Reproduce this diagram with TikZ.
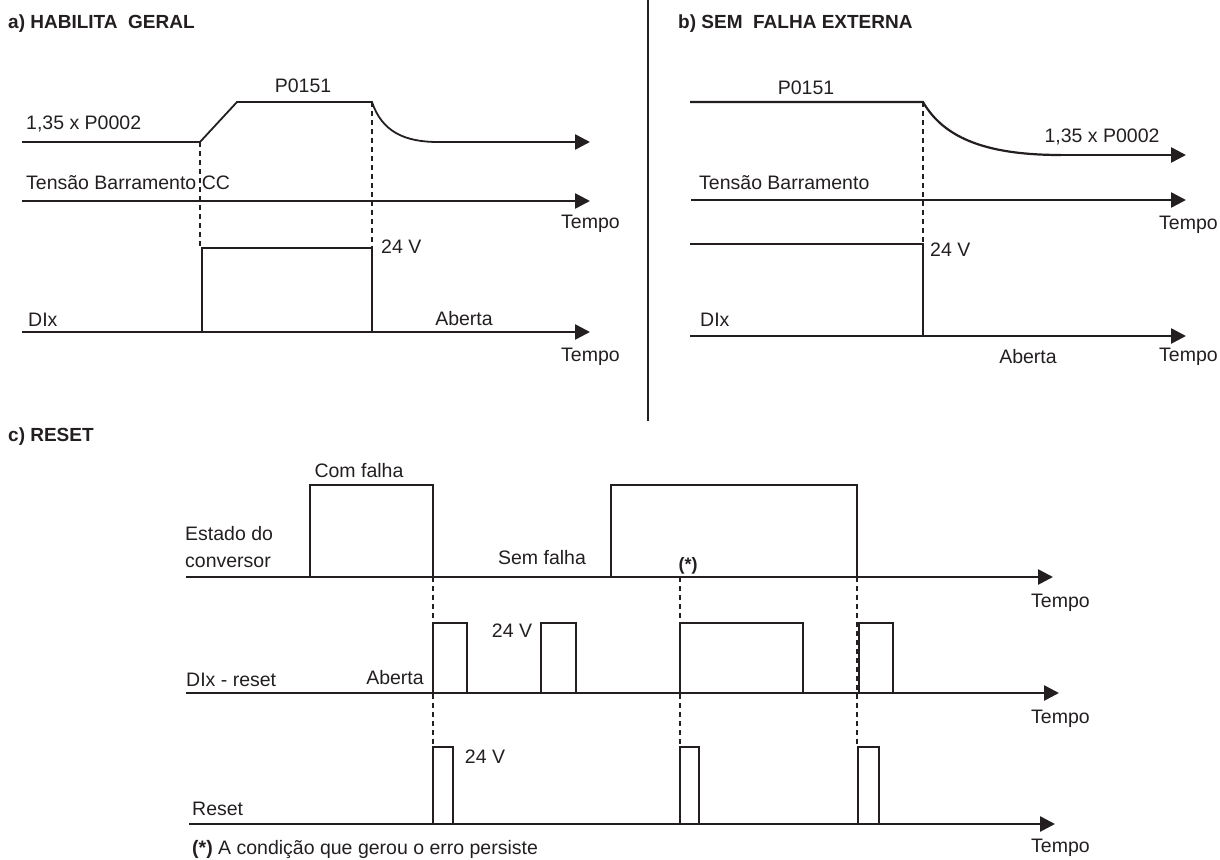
\documentclass[tikz,border=0pt]{standalone}
\usepackage{fontspec}
\setmainfont{Liberation Sans}
\usetikzlibrary{arrows.meta,positioning}
\definecolor{inkcolor}{RGB}{35,31,32}

\begin{document}
\begin{tikzpicture}[
    x=1pt, y=-1pt,
    sig/.style={line width=2.2pt, draw=inkcolor, line join=miter},
    axis/.style={sig, line width=2.6pt, -{Triangle[length=15pt,width=15pt]}},
    guide/.style={line width=1.7pt, draw=inkcolor, dash pattern=on 5pt off 4pt},
    lbl/.style={font=\fontsize{19.5}{27}\selectfont, text=inkcolor, inner sep=0pt},
    panel/.style={font=\bfseries\fontsize{19}{20}\selectfont, text=inkcolor, inner sep=0pt, anchor=west}
]
\useasboundingbox (0,0) rectangle (1220,859);

% Separator between a) and b)
\draw[line width=1.2pt, draw=inkcolor] (648,0) -- (648,421);

% a) HABILITA GERAL
\node[panel] (titleA) at (8,24) {a) HABILITA\ \ GERAL};
\draw[sig, line width=1.8pt] (22,142) -- (200,142) -- (237,102) -- (372,102)
    .. controls (382,132) and (405,142) .. (438,142);
\draw[axis] (438,142) -- (590,142);
\draw[axis] (22,201) -- (590,201);
\draw[axis] (22,332) -- (590,332);
\draw[sig] (202,332) -- (202,248) -- (372,248) -- (372,332);
\draw[guide] (200,142) -- (200,248);
\draw[guide] (372,102) -- (372,248);

\node[lbl] (pA) at (303,86) {P0151};
\node[lbl, anchor=west] (vA) at (26,124) {1,35 x P0002};
\node[lbl, anchor=west] (busA) at (26,183) {Tensão Barramento CC};
\node[lbl, anchor=west] (t1A) at (561,224) {Tempo};
\node[lbl, anchor=west] (onA) at (381,247) {24 V};
\node[lbl, anchor=west] (diA) at (28,320) {DIx};
\node[lbl] (offA) at (464,319) {Aberta};
\node[lbl, anchor=west] (t2A) at (561,357) {Tempo};

% b) SEM FALHA EXTERNA
\node[panel] (titleB) at (678,24) {b) SEM\ \ FALHA EXTERNA};
\draw[sig] (690,102) -- (923,102)
    .. controls (945,140) and (990,155) .. (1061,155);
\draw[axis] (1061,155) -- (1186,155);
\draw[axis] (691,200) -- (1186,200);
\draw[axis] (690,336) -- (1186,336);
\draw[sig] (690,244) -- (923,244) -- (923,336);
\draw[guide] (923,102) -- (923,244);

\node[lbl] (pB) at (806,88) {P0151};
\node[lbl] (vB) at (1102,137) {1,35 x P0002};
\node[lbl, anchor=west] (busB) at (699,183) {Tensão Barramento};
\node[lbl, anchor=west] (t1B) at (1159,225) {Tempo};
\node[lbl, anchor=west] (onB) at (930,250) {24 V};
\node[lbl, anchor=west] (diB) at (700,320) {DIx};
\node[lbl] (offB) at (1028,357) {Aberta};
\node[lbl, anchor=west] (t2B) at (1159,357) {Tempo};

% c) RESET
\node[panel] (titleC) at (8,437) {c) RESET};

% Estado do conversor
\draw[axis] (186,577) -- (1053,577);
\foreach \a/\b in {310/433, 611/857}
    \draw[sig] (\a,577) -- (\a,485) -- (\b,485) -- (\b,577);

% DIx - reset
\draw[axis] (186,693) -- (1059,693);
\foreach \a/\b in {433/467, 541/576, 680/803, 859/893}
    \draw[sig] (\a,693) -- (\a,623) -- (\b,623) -- (\b,693);

% Reset
\draw[axis] (189,824) -- (1055,824);
\foreach \a/\b in {433/453, 680/699, 858/879}
    \draw[sig] (\a,824) -- (\a,747) -- (\b,747) -- (\b,824);

% Guides
\foreach \g in {433, 680, 857}
    \draw[guide] (\g,577) -- (\g,747);

\node[lbl] (fault) at (359,471) {Com falha};
\node[lbl, anchor=west, align=left] (state) at (185,547) {Estado do\\conversor};
\node[lbl] (nofault) at (542,558) {Sem falha};
\node[lbl, font=\bfseries\fontsize{18}{20}\selectfont] (star) at (688,566) {(*)};
\node[lbl, anchor=west] (t1C) at (1031,603) {Tempo};
\node[lbl] (onC) at (512,631) {24 V};
\node[lbl, anchor=west] (diC) at (186,680) {DIx - reset};
\node[lbl] (offC) at (395,678) {Aberta};
\node[lbl, anchor=west] (t2C) at (1031,719) {Tempo};
\node[lbl] (onR) at (485,757) {24 V};
\node[lbl, anchor=west] (rst) at (192,809) {Reset};
\node[lbl, anchor=west] (t3C) at (1031,848) {Tempo};
\node[lbl, anchor=west] (note) at (192,849) {\textbf{(*)} A condição que gerou o erro persiste};

\end{tikzpicture}
\end{document}
